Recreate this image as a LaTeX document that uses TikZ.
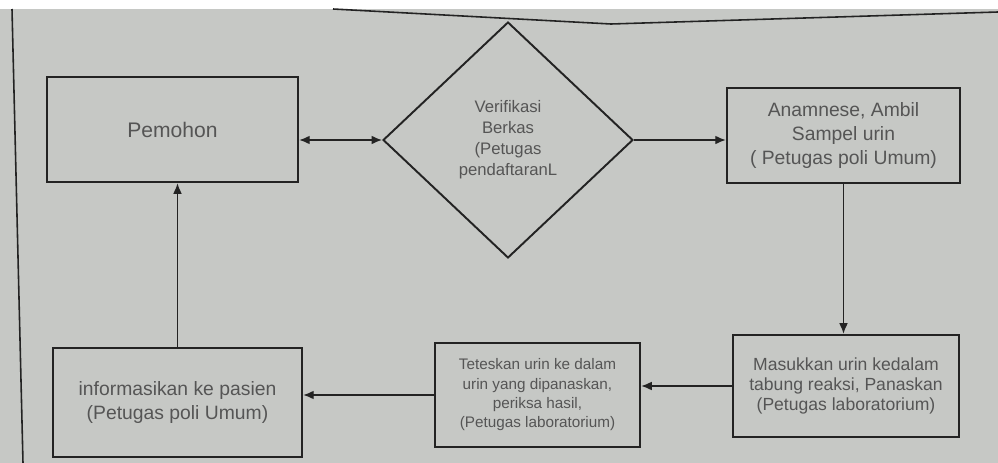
\documentclass[tikz,border=0pt]{standalone}
\usepackage{fontspec}
\setmainfont{Liberation Sans}
\usetikzlibrary{shapes.geometric,arrows.meta}

\definecolor{paper}{RGB}{198,200,197}
\definecolor{ink}{RGB}{35,35,35}
\definecolor{txt}{RGB}{85,85,85}

\tikzset{
    box/.style={shape=rectangle, draw=ink, line width=1.4pt, text=txt, align=center, inner sep=2pt},
    decision/.style={shape=diamond, draw=ink, line width=1.1pt, text=txt, align=center, inner sep=0pt},
    flow/.style={color=ink, line width=0.8pt, >={Latex[length=6pt,width=5pt]}}
}

\begin{document}
\begin{tikzpicture}[x=0.02cm, y=-0.02cm]
    \fill[white] (0,0) rectangle (998,463);
    \fill[paper] (0,9) rectangle (998,463);
    \useasboundingbox (0,0) rectangle (998,463);
    % edge of the sheet
    \draw[ink, line width=0.9pt] (12,9) -- (23,463);
    \draw[ink, line width=0.9pt] (333,9) -- (611,24) -- (998,12);

    \node[box, minimum width=5.02cm, minimum height=2.1cm, font=\fontsize{12}{14}\selectfont] at (172.5,129.5) (Pm) {Pemohon};
    \node[decision, minimum width=5cm, minimum height=4.72cm, font=\fontsize{9.5}{12}\selectfont] at (508,140) (Vf) {Verifikasi\\Berkas\\(Petugas\\pendaftaranL};
    \node[box, minimum width=4.66cm, minimum height=1.9cm, font=\fontsize{11}{13.6}\selectfont] at (843.5,135.5) (An) {Anamnese, Ambil\\Sampel urin\\( Petugas poli Umum)};
    \node[box, minimum width=4.52cm, minimum height=2.04cm, font=\fontsize{10}{11.5}\selectfont] at (846,386) (Ms) {Masukkan urin kedalam\\tabung reaksi, Panaskan\\(Petugas laboratorium)};
    \node[box, minimum width=4.1cm, minimum height=2.08cm, font=\fontsize{8.7}{11}\selectfont] at (537.5,395) (Ts) {Teteskan urin ke dalam\\urin yang dipanaskan,\\periksa hasil,\\(Petugas laboratorium)};
    \node[box, minimum width=4.98cm, minimum height=2.18cm, font=\fontsize{11}{14}\selectfont] at (177.5,402.5) (If) {informasikan ke pasien\\(Petugas poli Umum)};

    \path [flow, <->] (Vf.west -| Pm.east) edge (Vf.west);
    \path [flow, ->] (Vf.east) edge (Vf.east -| An.west);
    \path [flow, ->] (An.south) edge (An.south |- Ms.north);
    \path [flow, ->] (Ms.west) edge (Ms.west -| Ts.east);
    \path [flow, ->] (Ts.west) edge (Ts.west -| If.east);
    \path [flow, ->] (If.north) edge (If.north |- Pm.south);
\end{tikzpicture}
\end{document}
